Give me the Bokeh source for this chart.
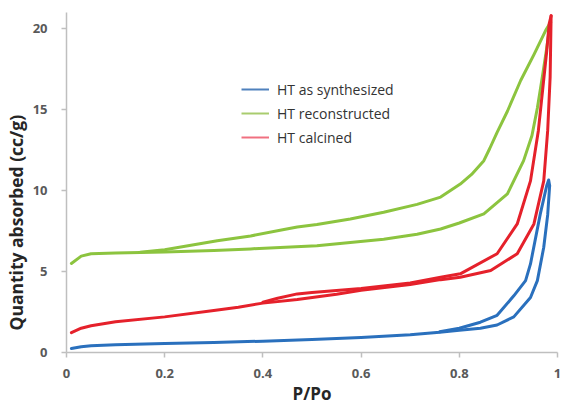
import math
from bokeh.plotting import figure
from bokeh.models import (Legend, LegendItem, FixedTicker, NumeralTickFormatter, Title, Range1d)
from bokeh.embed import file_html
from bokeh.resources import INLINE

# ---- data ----
blue_ads_x = [0.01, 0.03, 0.05, 0.10, 0.20, 0.30, 0.40, 0.50, 0.60, 0.70, 0.76, 0.80, 0.843, 0.877, 0.911, 0.945, 0.959, 0.972, 0.980, 0.984]
blue_ads_y = [0.25, 0.36, 0.42, 0.48, 0.55, 0.62, 0.70, 0.80, 0.92, 1.10, 1.25, 1.38, 1.50, 1.70, 2.20, 3.40, 4.44, 6.50, 8.50, 10.3]
blue_des_x = [0.984, 0.982, 0.978, 0.965, 0.945, 0.935, 0.911, 0.877, 0.843, 0.80, 0.76]
blue_des_y = [10.3, 10.65, 10.3, 8.56, 5.47, 4.44, 3.5, 2.3, 1.87, 1.5, 1.28]

green_ads_x = [0.01, 0.03, 0.05, 0.10, 0.20, 0.30, 0.375, 0.51, 0.646, 0.714, 0.762, 0.80, 0.850, 0.898, 0.931, 0.948, 0.959, 0.969, 0.978, 0.984, 0.986]
green_ads_y = [5.5, 5.95, 6.1, 6.15, 6.2, 6.3, 6.4, 6.6, 7.0, 7.3, 7.63, 8.0, 8.56, 9.8, 11.85, 13.4, 15.1, 17.0, 18.8, 20.1, 20.4]
green_des_x = [0.986, 0.976, 0.952, 0.925, 0.898, 0.877, 0.862, 0.850, 0.825, 0.802, 0.762, 0.714, 0.646, 0.578, 0.51, 0.47, 0.443, 0.375, 0.307, 0.20, 0.15]
green_des_y = [20.4, 19.9, 18.4, 16.8, 14.9, 13.6, 12.6, 11.85, 11.0, 10.4, 9.6, 9.15, 8.66, 8.25, 7.9, 7.75, 7.6, 7.2, 6.9, 6.35, 6.2]

red_ads_x = [0.01, 0.03, 0.05, 0.10, 0.20, 0.30, 0.35, 0.40, 0.47, 0.55, 0.60, 0.70, 0.762, 0.802, 0.864, 0.918, 0.952, 0.972, 0.980, 0.985, 0.987]
red_ads_y = [1.23, 1.5, 1.65, 1.9, 2.2, 2.6, 2.8, 3.05, 3.27, 3.6, 3.85, 4.2, 4.5, 4.65, 5.06, 6.1, 7.94, 10.6, 13.7, 17.0, 20.8]
red_des_x = [0.987, 0.983, 0.978, 0.969, 0.961, 0.945, 0.918, 0.877, 0.802, 0.762, 0.70, 0.60, 0.50, 0.47, 0.43, 0.40]
red_des_y = [20.8, 20.3, 18.6, 16.0, 13.7, 10.6, 7.94, 6.1, 4.86, 4.65, 4.3, 3.95, 3.7, 3.62, 3.35, 3.1]

series_labels = ["HT as synthesized", "HT reconstructed", "HT calcined"]
x_ticks = [0, 0.2, 0.4, 0.6, 0.8, 1.0]
y_ticks = [0, 5, 10, 15, 20]

BLUE = "#2a70bd"
GREEN = "#8cc43f"
RED = "#e5212b"

p = figure(width=562, height=407, output_backend="svg", toolbar_location=None,
           x_range=Range1d(0, 1.0), y_range=Range1d(0, 21.0),
           min_border_left=66, min_border_right=5, min_border_top=12, min_border_bottom=55)
p.outline_line_color = None
p.xgrid.visible = False
p.ygrid.visible = False
p.background_fill_color = "white"

for xs, ys, c in [(green_ads_x, green_ads_y, GREEN), (green_des_x, green_des_y, GREEN),
                  (red_ads_x, red_ads_y, RED), (red_des_x, red_des_y, RED),
                  (blue_ads_x, blue_ads_y, BLUE), (blue_des_x, blue_des_y, BLUE)]:
    p.line(xs, ys, line_color=c, line_width=3, line_cap="round", line_join="round")

# axes styling
for ax in (p.xaxis[0], p.yaxis[0]):
    ax.axis_line_color = "#bfbfbf"
    ax.axis_line_width = 1.5
    ax.major_tick_line_color = "#bfbfbf"
    ax.major_tick_line_width = 1.5
    ax.major_tick_in = 0
    ax.major_tick_out = 5
    ax.minor_tick_line_color = None
    ax.major_label_text_font = "Open Sans"
    ax.major_label_text_font_size = "13px"
    ax.major_label_text_font_style = "bold"
    ax.major_label_text_color = "#595959"

p.xaxis.ticker = FixedTicker(ticks=x_ticks)
p.xaxis.formatter = NumeralTickFormatter(format="0.[0]")
p.xaxis.major_label_standoff = 11
p.xaxis.axis_label = "P/Po"
p.xaxis.axis_label_text_font = "Open Sans"
p.xaxis.axis_label_text_font_size = "17px"
p.xaxis.axis_label_text_font_style = "bold"
p.xaxis.axis_label_text_color = "#262626"
p.xaxis.axis_label_standoff = 1

p.yaxis.ticker = FixedTicker(ticks=y_ticks)
p.yaxis.major_label_standoff = 14

ytitle = Title(text="Quantity absorbed (cc/g)", align="left", offset=22, standoff=3,
               text_font="Open Sans", text_font_size="17.5px", text_font_style="bold",
               text_color="#262626")
p.add_layout(ytitle, "left")

# legend (thin sample lines)
lr = []
for c in ["#4f81bd", "#a9cc6e", "#f07080"]:
    lr.append(p.line(x=[float("nan")], y=[float("nan")], line_color=c, line_width=2))
legend = Legend(items=[LegendItem(label=l, renderers=[r]) for l, r in zip(series_labels, lr)],
                location=(175, 205), orientation="vertical",
                glyph_width=28, glyph_height=20, label_standoff=8, spacing=4,
                padding=0, margin=0, border_line_alpha=0, background_fill_alpha=0,
                label_text_font="Open Sans", label_text_font_size="14px",
                label_text_color="#333333")
p.add_layout(legend)

open("out.html", "w").write(file_html(p, INLINE))
